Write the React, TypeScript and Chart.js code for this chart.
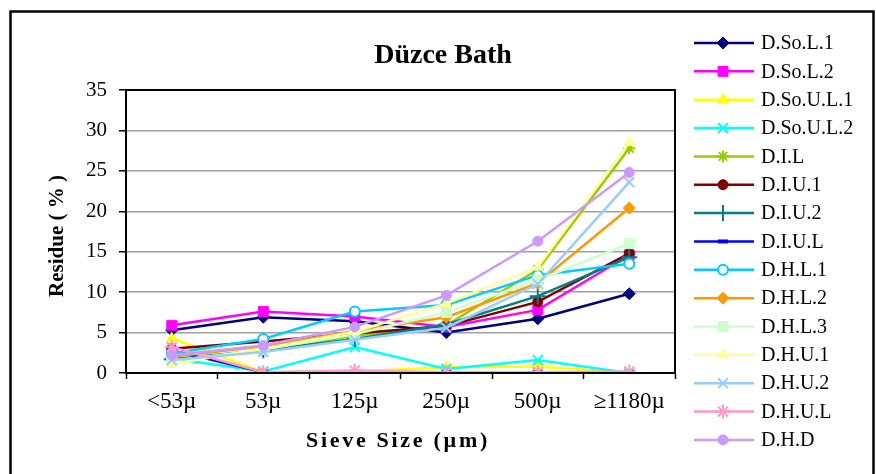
import React, { useEffect, useRef } from 'react';
import { Chart, registerables } from 'chart.js';
import { drawPoint } from 'chart.js/helpers';

Chart.register(...registerables);

const categories = ['<53µ', '53µ', '125µ', '250µ', '500µ', '≥1180µ'];
const seriesNames = [
  'D.So.L.1', 'D.So.L.2', 'D.So.U.L.1', 'D.So.U.L.2', 'D.I.L', 'D.I.U.1', 'D.I.U.2', 'D.I.U.L',
  'D.H.L.1', 'D.H.L.2', 'D.H.L.3', 'D.H.U.1', 'D.H.U.2', 'D.H.U.L', 'D.H.D',
];
const dSoL1 = [5.3, 6.9, 6.4, 5.0, 6.7, 9.8];
const dSoL2 = [5.9, 7.6, 7.0, 5.7, 7.8, 14.6];
const dSoUL1 = [4.3, 0.1, 0.2, 0.7, 0.8, 0.0];
const dSoUL2 = [1.8, 0.2, 3.2, 0.5, 1.6, 0.0];
const dIL = [1.6, 2.8, 4.6, 5.9, 12.8, 27.8];
const dIU1 = [3.0, 3.9, 4.9, 5.8, 8.8, 14.8];
const dIU2 = [1.7, 2.8, 4.2, 6.0, 9.5, 14.3];
const dIUL = [2.8, 0.1, 0.1, 0.1, 0.1, 0.1];
const dHL1 = [2.4, 4.2, 7.6, 8.4, 12.1, 13.5];
const dHL2 = [2.0, 3.3, 5.2, 6.9, 11.1, 20.4];
const dHL3 = [1.5, 2.9, 4.8, 7.5, 11.5, 16.0];
const dHU1 = [1.1, 3.0, 5.1, 8.6, 13.1, 28.5];
const dHU2 = [1.6, 2.6, 4.1, 5.6, 11.0, 23.6];
const dHUL = [3.2, 0.1, 0.3, 0.1, 0.1, 0.2];
const dHD = [2.2, 3.4, 5.7, 9.6, 16.3, 24.8];
const seriesValues = [dSoL1, dSoL2, dSoUL1, dSoUL2, dIL, dIU1, dIU2, dIUL, dHL1, dHL2, dHL3, dHU1, dHU2, dHUL, dHD];

const chartTitle = 'Düzce Bath';
const yTitle = 'Residue ( % )';
const xTitle = 'Sieve Size (µm)';
const yMin = 0;
const yMax = 35;
const yStep = 5;

type Style = { color: string; point: string; r: number; fill?: string; bw: number };
const styles: Style[] = [
  { color: '#000080', point: 'rectRot', r: 6, bw: 1 },
  { color: '#FF00FF', point: 'rect', r: 7, bw: 1 },
  { color: '#FFFF00', point: 'triangle', r: 6, bw: 1 },
  { color: '#00FFFF', point: 'crossRot', r: 7, bw: 2 },
  { color: '#99CC00', point: 'star', r: 6, bw: 2 },
  { color: '#800000', point: 'circle', r: 5, bw: 1 },
  { color: '#008080', point: 'cross', r: 8, bw: 2 },
  { color: '#0000FF', point: 'line', r: 5, bw: 4 },
  { color: '#00CCFF', point: 'circle', r: 5, fill: '#FFFFFF', bw: 2 },
  { color: '#FF9900', point: 'rectRot', r: 6, bw: 1 },
  { color: '#CCFFCC', point: 'rect', r: 7, bw: 1 },
  { color: '#FFFF99', point: 'triangle', r: 6, bw: 1 },
  { color: '#99CCFF', point: 'crossRot', r: 7, bw: 2 },
  { color: '#FF99CC', point: 'star', r: 7, bw: 2 },
  { color: '#CC99FF', point: 'circle', r: 5, bw: 1 },
];

const FONT = "'Liberation Serif', 'Times New Roman', serif";

const decorPlugin = {
  id: 'decor',
  afterDraw(chart: any) {
    const ctx = chart.ctx as CanvasRenderingContext2D;
    const ca = chart.chartArea;
    ctx.save();
    ctx.strokeStyle = '#000';
    ctx.lineWidth = 2;
    ctx.strokeRect(ca.left, ca.top, ca.right - ca.left, ca.bottom - ca.top);
    ctx.lineWidth = 2.5;
    ctx.strokeRect(10.5, 11.5, 863, 480);
    ctx.fillStyle = '#000';
    ctx.font = `bold 28px ${FONT}`;
    ctx.textAlign = 'center';
    ctx.textBaseline = 'middle';
    ctx.fillText(chartTitle, 443, 56);
    ctx.save();
    ctx.translate(58, 236);
    ctx.rotate(-Math.PI / 2);
    ctx.font = `bold 21px ${FONT}`;
    ctx.fillText(yTitle, 0, 0);
    ctx.restore();
    ctx.font = `bold 22px ${FONT}`;
    (ctx as any).letterSpacing = '2.7px';
    ctx.textAlign = 'left';
    const w = ctx.measureText(xTitle).width;
    ctx.fillText(xTitle, 398 - w / 2, 441);
    (ctx as any).letterSpacing = '0px';
    ctx.font = `20px ${FONT}`;
    ctx.textBaseline = 'middle';
    chart.data.datasets.forEach((ds: any, i: number) => {
      const st = styles[i];
      const y = 43 + i * 28.35;
      ctx.strokeStyle = st.color;
      ctx.lineWidth = 2.5;
      ctx.beginPath();
      ctx.moveTo(694, y);
      ctx.lineTo(754, y);
      ctx.stroke();
      ctx.fillStyle = st.fill || st.color;
      ctx.strokeStyle = st.color;
      ctx.lineWidth = st.bw;
      drawPoint(ctx, { pointStyle: st.point as any, rotation: 0, radius: st.r, borderWidth: st.bw }, 723, y);
      ctx.fillStyle = '#000';
      ctx.fillText(ds.label, 761, y + 1);
    });
    ctx.restore();
  },
};

export default function App() {
  const ref = useRef<HTMLCanvasElement>(null);
  useEffect(() => {
    if (!ref.current) return;
    const n = seriesNames.length;
    const chart = new Chart(ref.current, {
      type: 'line',
      data: {
        labels: categories,
        datasets: seriesNames.map((name, i) => {
          const st = styles[i];
          return {
            label: name,
            data: seriesValues[i],
            borderColor: st.color,
            backgroundColor: st.color,
            borderWidth: 2.5,
            pointStyle: st.point as any,
            pointRadius: st.r,
            pointHoverRadius: st.r,
            pointBackgroundColor: st.fill || st.color,
            pointBorderColor: st.color,
            pointBorderWidth: st.bw,
            tension: 0,
            fill: false,
            order: n - i,
          };
        }),
      },
      options: {
        responsive: false,
        animation: false,
        devicePixelRatio: 1,
        layout: { padding: { left: 0, top: 90, right: 201, bottom: 0 } },
        plugins: { legend: { display: false }, title: { display: false }, tooltip: { enabled: false } },
        scales: {
          x: {
            offset: true,
            afterFit: (s: any) => { s.height = 101; },
            grid: { display: true, drawOnChartArea: false, offset: true, tickLength: 6, tickColor: '#000', tickWidth: 1.5 },
            border: { color: '#000', width: 2 },
            ticks: { color: '#000', font: { family: FONT, size: 23 }, padding: 9, maxRotation: 0, autoSkip: false },
          },
          y: {
            min: yMin,
            max: yMax,
            afterFit: (s: any) => { s.width = 126; },
            grid: { color: '#A0A0A0', lineWidth: 1.5, tickLength: 7, tickColor: '#000', tickWidth: 1.5 },
            border: { color: '#000', width: 2 },
            ticks: { stepSize: yStep, color: '#000', font: { family: FONT, size: 21 }, padding: 12 },
          },
        },
      },
      plugins: [decorPlugin],
    });
    return () => chart.destroy();
  }, []);
  return (
    <div style={{ position: 'fixed', left: 0, top: 0, width: 876, height: 474, background: '#fff' }}>
      <canvas ref={ref} width={876} height={474} style={{ display: 'block' }} />
    </div>
  );
}
